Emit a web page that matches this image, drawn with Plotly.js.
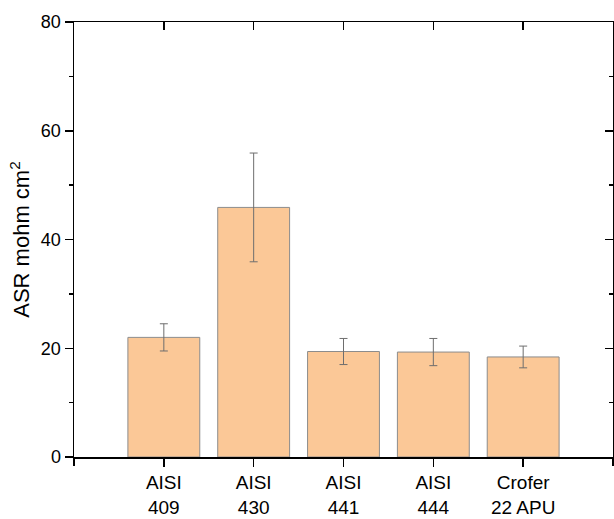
<!DOCTYPE html>
<html>
<head>
<meta charset="utf-8">
<script src="https://cdn.plot.ly/plotly-3.0.1.min.js"></script>
<style>html,body{margin:0;padding:0;background:#fff;}#chart{width:614px;height:519px;}</style>
</head>
<body>
<div id="chart"></div>
<script>
const categories = ["AISI<br>409", "AISI<br>430", "AISI<br>441", "AISI<br>444", "Crofer<br>22 APU"];
const asrValues = [22.0, 45.9, 19.4, 19.3, 18.4];
const asrErrors = [2.5, 10.0, 2.4, 2.5, 2.0];
const yTickVals = [0, 20, 40, 60, 80];

const xPos = categories.map((c, i) => i);
const xEnds = [-1, categories.length];

const font = {family: "Liberation Sans, Arial, sans-serif", color: "#000"};

const trace = {
  type: "bar",
  x: xPos,
  y: asrValues,
  width: 0.8,
  marker: {color: "#FBC897", line: {color: "#8c8c8c", width: 1}},
  error_y: {type: "data", array: asrErrors, visible: true, color: "#6e6e6e", thickness: 1, width: 4},
  hoverinfo: "none",
  showlegend: false
};
const dummy2 = {type: "scatter", x: [0], y: [0], xaxis: "x2", yaxis: "y2", mode: "none", showlegend: false, hoverinfo: "none"};
const dummy3 = {type: "scatter", x: [0], y: [0], xaxis: "x3", yaxis: "y", mode: "none", showlegend: false, hoverinfo: "none"};

const layout = {
  width: 614, height: 519,
  margin: {l: 74, r: 1, t: 22, b: 62},
  paper_bgcolor: "#fff", plot_bgcolor: "#fff",
  font: font,
  xaxis: {
    range: xEnds, tickmode: "array", tickvals: xPos, ticktext: categories,
    ticks: "outside", ticklen: 8, tickwidth: 1.5, tickcolor: "#000",
    showline: true, linecolor: "#000", linewidth: 1.5, showgrid: false, zeroline: false,
    tickfont: {size: 19, family: font.family, color: "#000"}, fixedrange: true
  },
  xaxis3: {
    overlaying: "x", side: "bottom", range: xEnds, tickmode: "array", tickvals: xEnds,
    ticks: "outside", ticklen: 8, tickwidth: 1.5, tickcolor: "#000", showticklabels: false,
    showline: false, showgrid: false, zeroline: false
  },
  yaxis: {
    range: [0, 80], tickmode: "array", tickvals: yTickVals,
    ticks: "outside", ticklen: 8, tickwidth: 1.5, tickcolor: "#000",
    minor: {dtick: 10, ticks: "outside", ticklen: 4, tickwidth: 1.5, tickcolor: "#000", showgrid: false},
    showline: true, linecolor: "#000", linewidth: 1.5, showgrid: false, zeroline: false,
    tickfont: {size: 18, family: font.family, color: "#000"},
    title: {text: "ASR mohm cm<sup>2</sup>", font: {size: 22, family: font.family, color: "#000"}, standoff: 5},
    fixedrange: true
  },
  xaxis2: {
    overlaying: "x", side: "top", range: xEnds, tickmode: "array", tickvals: xPos,
    ticks: "inside", ticklen: 8, tickwidth: 1.5, tickcolor: "#000", showticklabels: false,
    showline: true, linecolor: "#000", linewidth: 1.5, showgrid: false, zeroline: false
  },
  yaxis2: {
    overlaying: "y", side: "right", range: [0, 80], tickmode: "array", tickvals: yTickVals,
    ticks: "inside", ticklen: 8, tickwidth: 1.5, tickcolor: "#000", showticklabels: false,
    minor: {dtick: 10, ticks: "inside", ticklen: 4, tickwidth: 1.5, tickcolor: "#000", showgrid: false},
    showline: true, linecolor: "#000", linewidth: 1.5, showgrid: false, zeroline: false
  }
};

Plotly.newPlot("chart", [trace, dummy2, dummy3], layout, {displayModeBar: false, staticPlot: true});
</script>
</body>
</html>
